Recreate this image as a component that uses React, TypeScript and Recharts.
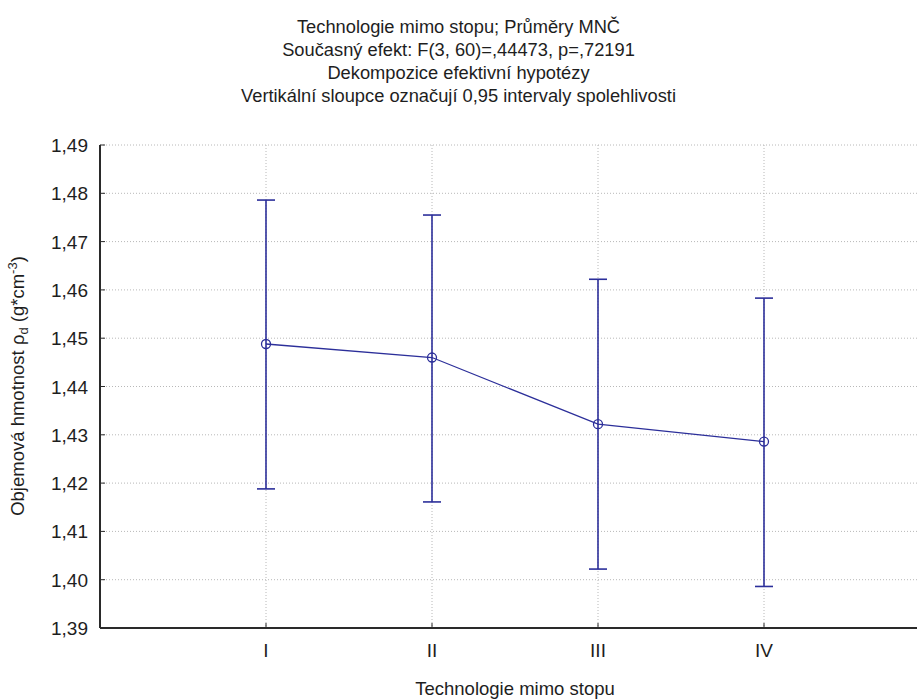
import { ComposedChart, Line, XAxis, YAxis, CartesianGrid, ErrorBar } from "recharts"

const CATEGORIES = ["I", "II", "III", "IV"]
const MEANS = [1.4488, 1.446, 1.4322, 1.4286]
const LOWER = [1.4188, 1.4161, 1.4022, 1.3986]
const UPPER = [1.4786, 1.4755, 1.4622, 1.4583]
const Y_TICKS = [1.39, 1.4, 1.41, 1.42, 1.43, 1.44, 1.45, 1.46, 1.47, 1.48, 1.49]
const X_TICKS = [1, 2, 3, 4]
const TITLE_LINES = [
  "Technologie mimo stopu; Průměry MNČ",
  "Současný efekt: F(3, 60)=,44473, p=,72191",
  "Dekompozice efektivní hypotézy",
  "Vertikální sloupce označují 0,95 intervaly spolehlivosti",
]

const FONT = "'Liberation Sans', Arial, sans-serif"
const TEXT = "#1e1e1e"
const AXIS = "#2a2a2a"
const BLUE = "#2c2f9a"

const PLOT_TOP = 145
const PLOT_BOTTOM = 628
const PLOT_LEFT = 100

const data = CATEGORIES.map((name, i) => ({
  pos: i + 1,
  name,
  mean: MEANS[i],
  err: [MEANS[i] - LOWER[i], UPPER[i] - MEANS[i]],
}))

const fmt = (v: number) => v.toFixed(2).replace(".", ",")

// ticks point into the plot, labels sit outside
const BottomTick = (props: any) => {
  const { x, payload } = props
  return (
    <g>
      <line x1={x} x2={x} y1={PLOT_BOTTOM} y2={PLOT_BOTTOM - 5} stroke={AXIS} strokeWidth={1} />
      <text x={x} y={PLOT_BOTTOM + 29} textAnchor="middle" fontSize={19} fontFamily={FONT} fill={TEXT}>
        {CATEGORIES[payload.value - 1]}
      </text>
    </g>
  )
}

const TopTick = (props: any) => {
  const { x } = props
  return <line x1={x} x2={x} y1={PLOT_TOP} y2={PLOT_TOP + 5} stroke={AXIS} strokeWidth={1} />
}

const LeftTick = (props: any) => {
  const { y, payload } = props
  return (
    <g>
      <line x1={PLOT_LEFT} x2={PLOT_LEFT + 5} y1={y} y2={y} stroke={AXIS} strokeWidth={1} />
      <text x={88} y={y + 7} textAnchor="end" fontSize={19} fontFamily={FONT} fill={TEXT}>
        {fmt(payload.value)}
      </text>
    </g>
  )
}

const YLabel = () => {
  const cx = 24
  const cy = 386
  return (
    <text
      x={cx}
      y={cy}
      transform={`rotate(-90, ${cx}, ${cy})`}
      textAnchor="middle"
      fontSize={18.5}
      fontFamily={FONT}
      fill={TEXT}
    >
      Objemová hmotnost ρ
      <tspan dy={4} fontSize={13}>d</tspan>
      <tspan dy={-4}> (g*cm</tspan>
      <tspan dy={-7} fontSize={13}>-3</tspan>
      <tspan dy={7}>)</tspan>
    </text>
  )
}

export default function App() {
  return (
    <div
      style={{
        position: "absolute",
        left: 0,
        top: 0,
        width: 917,
        height: 699,
        overflow: "hidden",
        background: "#fff",
      }}
    >
      <div style={{ position: "absolute", left: 0, top: 0, width: 917, textAlign: "center", fontFamily: FONT, fontSize: 18.3, color: TEXT }}>
        {TITLE_LINES.map((t, i) => (
          <div key={i} style={{ position: "absolute", left: 0, width: 917, top: 16 + i * 23, lineHeight: "21px" }}>
            {t}
          </div>
        ))}
      </div>
      <div style={{ position: "absolute", left: 0, top: 0 }}>
        <ComposedChart width={960} height={699} data={data} margin={{ top: PLOT_TOP, right: 30, bottom: 0, left: 0 }}>
          <CartesianGrid stroke="#b8b8b8" strokeDasharray="1 2" />
          <XAxis
            type="number"
            dataKey="pos"
            domain={[0, 5]}
            ticks={X_TICKS}
            interval={0}
            height={71}
            axisLine={{ stroke: AXIS, strokeWidth: 2 }}
            tickLine={false}
            tick={<BottomTick />}
            label={{
              value: "Technologie mimo stopu",
              position: "insideBottom",
              offset: 4,
              fontSize: 18.5,
              fontFamily: FONT,
              fill: TEXT,
            }}
          />
          <XAxis
            xAxisId="top"
            orientation="top"
            type="number"
            dataKey="pos"
            domain={[0, 5]}
            ticks={X_TICKS}
            interval={0}
            height={0}
            axisLine={{ stroke: AXIS, strokeWidth: 2 }}
            tickLine={false}
            tick={<TopTick />}
          />
          <YAxis
            type="number"
            domain={[1.39, 1.49]}
            ticks={Y_TICKS}
            interval={0}
            width={100}
            axisLine={{ stroke: AXIS, strokeWidth: 2 }}
            tickLine={false}
            tick={<LeftTick />}
            label={<YLabel />}
            allowDataOverflow
          />
          <Line
            type="linear"
            dataKey="mean"
            stroke={BLUE}
            strokeWidth={1.3}
            dot={{ r: 4.5, stroke: BLUE, strokeWidth: 1.3, fill: "none" }}
            activeDot={false}
            isAnimationActive={false}
          >
            <ErrorBar dataKey="err" direction="y" width={9} stroke={BLUE} strokeWidth={1.6} isAnimationActive={false} />
          </Line>
        </ComposedChart>
      </div>
    </div>
  )
}
